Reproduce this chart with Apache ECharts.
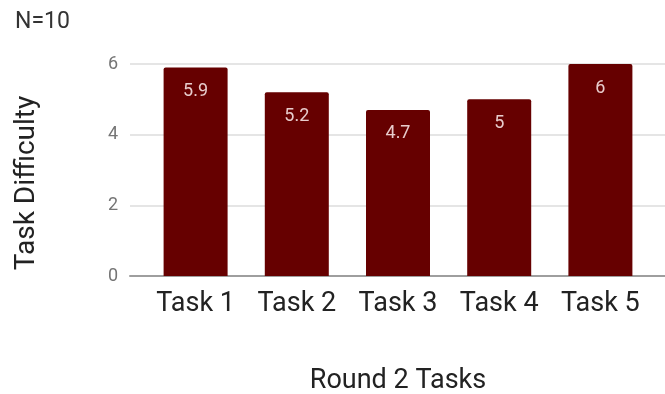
<!DOCTYPE html>
<html>
<head>
<meta charset="utf-8">
<script src="https://cdn.jsdelivr.net/npm/echarts@6/dist/echarts.min.js"></script>
<style>
  html, body { margin: 0; padding: 0; background: #fff; }
  #chart { width: 665px; height: 394px; }
</style>
</head>
<body>
<div id="chart"></div>
<script>
// Round 2 task difficulty ratings (mean score, N = 10)
const categories = ['Task 1', 'Task 2', 'Task 3', 'Task 4', 'Task 5'];
const difficulty = [5.9, 5.2, 4.7, 5, 6];
const yTicks = { min: 0, max: 6, interval: 2 };

const FONT = 'Roboto, "Noto Sans", sans-serif';
const chart = echarts.init(document.getElementById('chart'), null, { renderer: 'canvas' });

chart.setOption({
  animation: false,
  title: {
    text: 'N=10',
    left: 10, top: 6,
    textStyle: { fontFamily: FONT, fontSize: 23, fontWeight: 'normal', color: '#333' }
  },
  graphic: [{
    type: 'text',
    x: 27,
    y: 183,
    rotation: Math.PI / 2,
    style: {
      text: 'Task Difficulty',
      font: '28px ' + FONT,
      fill: '#222',
      align: 'center',
      verticalAlign: 'middle'
    }
  }],
  grid: [
    // background grid: gridlines and baseline across the full plot width
    { left: 130, right: 0, top: 64, bottom: 118, outerBoundsMode: 'none', containLabel: false },
    // bar grid
    { left: 145, right: 14, top: 64, bottom: 118, outerBoundsMode: 'none', containLabel: false }
  ],
  xAxis: [
    {
      gridIndex: 0, type: 'value', min: 0, max: 1,
      axisLabel: { show: false }, axisTick: { show: false }, splitLine: { show: false },
      axisLine: { show: true, onZero: true, lineStyle: { color: '#9e9e9e', width: 2 } }
    },
    {
      gridIndex: 1, type: 'category', data: categories,
      axisLine: { show: false }, axisTick: { show: false },
      axisLabel: { fontFamily: FONT, fontSize: 27, color: '#222', margin: 15, interval: 0, hideOverlap: false },
      name: 'Round 2 Tasks', nameLocation: 'middle', nameGap: 92,
      nameTextStyle: { fontFamily: FONT, fontSize: 27, color: '#222' }
    }
  ],
  yAxis: [
    {
      gridIndex: 0, type: 'value', min: yTicks.min, max: yTicks.max, interval: yTicks.interval,
      axisLine: { show: false }, axisTick: { show: false },
      axisLabel: { fontFamily: FONT, fontSize: 18, color: '#757575', margin: 12 },
      splitLine: { show: true, lineStyle: { color: '#dcdcdc', width: 1.5 } }
    },
    {
      gridIndex: 1, type: 'value', min: yTicks.min, max: yTicks.max, interval: yTicks.interval,
      axisLine: { show: false }, axisTick: { show: false },
      axisLabel: { show: false }, splitLine: { show: false }
    }
  ],
  series: [{
    type: 'bar',
    xAxisIndex: 1, yAxisIndex: 1,
    data: difficulty,
    barWidth: 64,
    itemStyle: { color: '#660000', borderRadius: [2, 2, 0, 0] },
    label: {
      show: true, position: 'insideTop', distance: 15,
      fontFamily: FONT, fontSize: 18, color: '#e8cccc'
    }
  }]
});
</script>
</body>
</html>
